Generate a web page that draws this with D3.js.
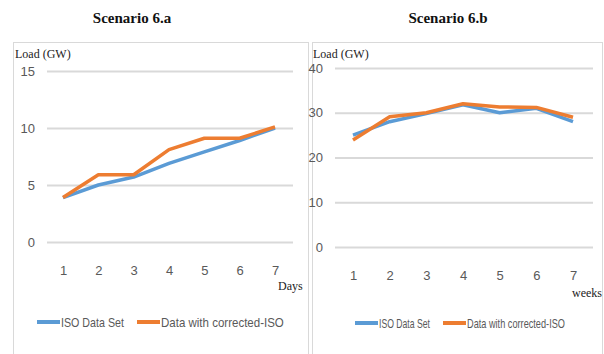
<!DOCTYPE html>
<html>
<head>
<meta charset="utf-8">
<script src="https://cdn.jsdelivr.net/npm/d3@7"></script>
<style>
  body { margin: 0; background: #fff; }
  .tick text { fill: #595959; font-family: "Liberation Sans", sans-serif; font-size: 13px; }
</style>
</head>
<body>
<div id="chart-area"></div>
<script>
// values
var days = [1, 2, 3, 4, 5, 6, 7]
var isoDaily = [3.9, 5.0, 5.7, 6.9, 7.9, 8.9, 10.0]
var correctedDaily = [3.9, 5.9, 5.9, 8.1, 9.1, 9.1, 10.1]
var dailyTicks = [0, 5, 10, 15]

var weeks = [1, 2, 3, 4, 5, 6, 7]
var isoWeekly = [25.0, 28.0, 29.8, 31.8, 30.0, 31.0, 28.0]
var correctedWeekly = [23.9, 29.1, 30.0, 32.0, 31.3, 31.2, 29.0]
var weeklyTicks = [0, 10, 20, 30, 40]

var seriesNames = ["ISO Data Set", "Data with corrected-ISO"]
var colors = ["#5b9bd5", "#ed7d31"]

var svg = d3.select("#chart-area")
  .append("svg")
  .attr("width", 604)
  .attr("height", 354)

var panels = [
  {
    title: "Scenario 6.a", unit: "Days", cats: days, series: [isoDaily, correctedDaily], ticks: dailyTicks,
    frame: [13, 42, 308, 360], titleX: 132, gridX: [47, 293], xRange: [63, 275], yRange: [242, 71],
    yLabelX: 15, unitX: 278, unitY: 290, legend: [37, 137], legendLen: [63, 123], legendY: 322
  },
  {
    title: "Scenario 6.b", unit: "weeks", cats: weeks, series: [isoWeekly, correctedWeekly], ticks: weeklyTicks,
    frame: [312, 42, 602, 360], titleX: 448, gridX: [335, 593], xRange: [353, 573], yRange: [247, 68],
    yLabelX: 313, unitX: 572, unitY: 297, legend: [355, 443], legendLen: [51, 98], legendY: 323
  }
]

panels.forEach((p) => {
  var g = svg.append("g")

  // frame
  g.append("rect")
    .attr("x", p.frame[0] + 0.5)
    .attr("y", p.frame[1] + 0.5)
    .attr("width", p.frame[2] - p.frame[0])
    .attr("height", p.frame[3] - p.frame[1])
    .attr("fill", "none")
    .attr("stroke", "#d9d9d9")

  g.append("text")
    .attr("x", p.titleX)
    .attr("y", 23)
    .attr("text-anchor", "middle")
    .attr("font-family", "Liberation Serif, serif")
    .attr("font-weight", "bold")
    .attr("font-size", "15px")
    .attr("fill", "#111")
    .text(p.title)

  g.append("text")
    .attr("x", p.yLabelX)
    .attr("y", 58)
    .attr("font-family", "Liberation Serif, serif")
    .attr("font-size", "12px")
    .attr("fill", "#222")
    .text("Load (GW)")

  var x = d3.scalePoint().domain(p.cats).range(p.xRange)
  var y = d3.scaleLinear()
    .domain([0, d3.max(p.ticks)])
    .range(p.yRange)

  var yAxis = d3.axisLeft(y)
    .tickValues(p.ticks)
    .tickSize(-(p.gridX[1] - p.gridX[0]))
    .tickPadding(12)

  var yg = g.append("g")
    .attr("transform", "translate(" + p.gridX[0] + ",0)")
    .call(yAxis)
  yg.select(".domain").remove()
  yg.selectAll(".tick line").attr("stroke", "#d9d9d9").attr("stroke-width", 2)

  var xAxis = d3.axisBottom(x).tickSize(0).tickPadding(24)
  var xg = g.append("g")
    .attr("transform", "translate(0," + y(0) + ")")
    .call(xAxis)
  xg.select(".domain").remove()

  g.append("text")
    .attr("x", p.unitX)
    .attr("y", p.unitY)
    .attr("font-family", "Liberation Serif, serif")
    .attr("font-size", "12px")
    .attr("fill", "#222")
    .text(p.unit)

  var line = d3.line()
    .x((d, i) => { return x(p.cats[i]); })
    .y((d) => { return y(d); })

  p.series.forEach((s, k) => {
    g.append("path")
      .datum(s)
      .attr("d", line)
      .attr("fill", "none")
      .attr("stroke", colors[k])
      .attr("stroke-width", 3.5)
      .attr("stroke-linejoin", "round")
  })

  // legend (text squeezed horizontally to the narrow look of the original)
  seriesNames.forEach((name, k) => {
    var lx = p.legend[k]
    g.append("line")
      .attr("x1", lx)
      .attr("x2", lx + 23)
      .attr("y1", p.legendY)
      .attr("y2", p.legendY)
      .attr("stroke", colors[k])
      .attr("stroke-width", 4)
    var t = g.append("text")
      .attr("font-family", "Liberation Sans, sans-serif")
      .attr("font-size", "13px")
      .attr("fill", "#595959")
      .text(name)
    var sx = p.legendLen[k] / t.node().getComputedTextLength()
    t.attr("transform", "translate(" + (lx + 24) + "," + (p.legendY + 4.5) + ") scale(" + sx + ",1)")
  })
})
</script>
</body>
</html>
